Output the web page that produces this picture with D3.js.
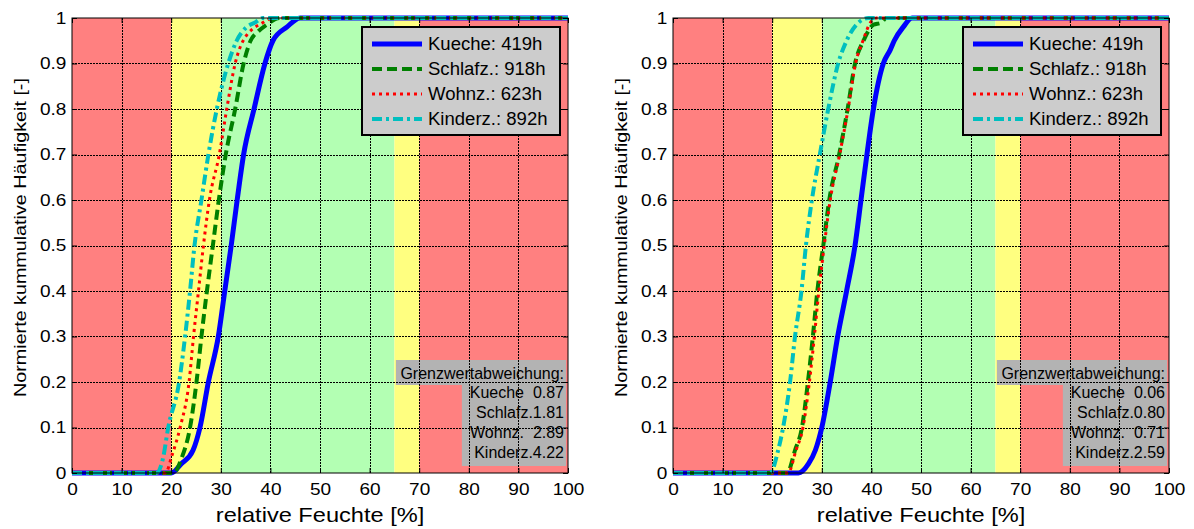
<!DOCTYPE html>
<html>
<head>
<meta charset="utf-8">
<script src="https://cdn.jsdelivr.net/npm/d3@7"></script>
<style>
  body { margin: 0; background: #fff; }
  svg { display: block; font-family: "Liberation Sans", Arial, sans-serif; }
</style>
</head>
<body>
<svg id="chart" width="1194" height="529"></svg>
<script>
// ---- data ----
const seriesNames = ['Kueche', 'Schlafz.', 'Wohnz.', 'Kinderz.'];
const hoursLeft = [419, 918, 623, 892];
const hoursRight = [419, 918, 623, 892];
const deviationLeft = ['0.87', '1.81', '2.89', '4.22'];
const deviationRight = ['0.06', '0.80', '0.71', '2.59'];
const xTicks = [0, 10, 20, 30, 40, 50, 60, 70, 80, 90, 100];
const yTicks = [0, 0.1, 0.2, 0.3, 0.4, 0.5, 0.6, 0.7, 0.8, 0.9, 1];
// comfort bands [from, to, kind]
const bandFrom = [0, 20, 30, 65, 70];
const bandTo = [20, 30, 65, 70, 100];
const bandKind = ['bad', 'warn', 'good', 'warn', 'bad'];

// left panel curves (relative humidity -> cumulative share)
const kuecheL_x = [0, 20, 22, 24.4, 25.8, 27.5, 29.5, 30.8, 32.1, 33.3, 34.6, 36.7, 38.9, 40.5, 43.3, 46, 100];
const kuecheL_y = [0, 0, 0.02, 0.05, 0.1, 0.2, 0.3, 0.4, 0.5, 0.6, 0.7, 0.8, 0.9, 0.95, 0.98, 1, 1];
const schlafL_x = [0, 20.5, 22, 23.8, 25.1, 26.1, 27.2, 28.4, 29.6, 31, 32.9, 34.6, 36, 37.5, 39.2, 42, 100];
const schlafL_y = [0, 0, 0.03, 0.1, 0.2, 0.3, 0.4, 0.5, 0.6, 0.7, 0.8, 0.9, 0.95, 0.97, 0.985, 1, 1];
const wohnL_x = [0, 18.8, 20.2, 21.8, 23.6, 24.5, 25.5, 26.5, 27.7, 29.7, 31.2, 32.9, 34.5, 38.5, 40.5, 100];
const wohnL_y = [0, 0, 0.04, 0.1, 0.2, 0.3, 0.4, 0.5, 0.6, 0.7, 0.8, 0.9, 0.95, 0.99, 1, 1];
const kindL_x = [0, 17, 18.3, 19.4, 21.6, 22.8, 23.8, 24.7, 26.1, 27.5, 29.2, 31.5, 33.2, 35.2, 36.9, 38.5, 100];
const kindL_y = [0, 0, 0.03, 0.1, 0.2, 0.3, 0.4, 0.5, 0.6, 0.7, 0.8, 0.9, 0.95, 0.98, 0.99, 1, 1];

// right panel curves
const kuecheR_x = [0, 25.3, 27.3, 28.7, 30, 31.7, 33.2, 35, 36.7, 37.9, 39.1, 40.4, 42.4, 43.8, 44.6, 46.4, 48.2, 100];
const kuecheR_y = [0, 0, 0.02, 0.05, 0.1, 0.2, 0.3, 0.4, 0.5, 0.6, 0.7, 0.8, 0.9, 0.93, 0.95, 0.98, 1, 1];
const schlafR_x = [0, 23, 24.6, 26, 27.2, 28.2, 29.1, 30.3, 31.5, 33.5, 35.2, 36.7, 38.4, 40.4, 42, 43, 100];
const schlafR_y = [0, 0, 0.05, 0.1, 0.2, 0.3, 0.4, 0.5, 0.6, 0.7, 0.8, 0.9, 0.95, 0.985, 0.99, 1, 1];
const wohnR_x = [0, 23.2, 24.8, 26.2, 27.5, 28.5, 29.4, 30.5, 31.7, 33.6, 35.3, 36.8, 38.3, 39.8, 41, 100];
const wohnR_y = [0, 0, 0.05, 0.1, 0.2, 0.3, 0.4, 0.5, 0.6, 0.7, 0.8, 0.9, 0.95, 0.99, 1, 1];
const kindR_x = [0, 19.6, 21.2, 22.2, 23.6, 24.6, 25.9, 26.8, 28, 29.6, 31.3, 33.3, 35, 37.4, 39.4, 100];
const kindR_y = [0, 0, 0.05, 0.1, 0.2, 0.3, 0.4, 0.5, 0.6, 0.7, 0.8, 0.9, 0.95, 0.99, 1, 1];

// ---- styling ----
const bandColor = { bad: '#ff8080', warn: '#ffff80', good: '#b3ffb3' };
const lineColor = ['#0000ff', '#008000', '#ff0000', '#00bfbf'];
const lineDash = [null, '10,5', '3,4', '10,4,3,4'];
const lineWidth = [5, 4, 3, 4];
// padding used so the deviation numbers line up like in the original
const devPad = { 'Kueche': '  ', 'Schlafz.': '', 'Wohnz.': '  ', 'Kinderz.': '' };

const svg = d3.select('#chart');

const zip = (xs, ys) => xs.map((x, i) => ({ x: x, y: ys[i] }));

// MATLAB export looks horizontally stretched, so text gets a sx factor
const stretchText = (sel, x, y, sx, rot) =>
  sel.attr('transform', `translate(${x},${y})${rot ? ' rotate(' + rot + ')' : ''} scale(${sx},1)`);

function drawPanel(left, curves, hours, deviation) {
  const top = 18, bottom = 473, width = 496;
  const x = d3.scaleLinear().domain([0, 100]).range([left, left + width]);
  const y = d3.scaleLinear().domain([0, 1]).range([bottom, top]);
  const g = svg.append('g');

  // background bands
  g.selectAll('rect.band')
    .data(bandFrom.map((f, i) => ({ from: f, to: bandTo[i], kind: bandKind[i] })))
    .enter().append('rect')
      .attr('class', 'band')
      .attr('x', d => x(d.from))
      .attr('width', d => x(d.to) - x(d.from))
      .attr('y', top)
      .attr('height', bottom - top)
      .style('fill', d => bandColor[d.kind]);

  // text box background (sits under the grid)
  const boxRight = x(99.6);
  g.append('rect')
    .attr('x', x(65.3)).attr('width', boxRight - x(65.3))
    .attr('y', 360).attr('height', 25)
    .style('fill', '#b3b3b3');
  g.append('rect')
    .attr('x', x(78.6)).attr('width', boxRight - x(78.6))
    .attr('y', 385).attr('height', 81)
    .style('fill', '#b3b3b3');

  // grid
  g.append('g').selectAll('line')
    .data(xTicks.slice(1, -1))
    .enter().append('line')
      .attr('x1', d => Math.round(x(d)) + 0.5).attr('x2', d => Math.round(x(d)) + 0.5)
      .attr('y1', top).attr('y2', bottom)
      .style('stroke', '#000').style('stroke-width', 1).style('stroke-dasharray', '2,1');
  g.append('g').selectAll('line')
    .data(yTicks.slice(1, -1))
    .enter().append('line')
      .attr('x1', left).attr('x2', left + width)
      .attr('y1', d => Math.round(y(d)) + 0.5).attr('y2', d => Math.round(y(d)) + 0.5)
      .style('stroke', '#000').style('stroke-width', 1).style('stroke-dasharray', '2,1');

  // text box lines
  const tb = g.append('g')
    .style('font-size', '16px')
    .attr('text-anchor', 'end');
  tb.append('text').attr('x', boxRight - 2).attr('y', 379).text('Grenzwertabweichung:');
  seriesNames.forEach((name, i) => {
    tb.append('text')
      .attr('x', boxRight - 2)
      .attr('y', 398 + i * 20)
      .attr('xml:space', 'preserve')
      .style('white-space', 'pre')
      .text(name + devPad[name] + deviation[i]);
  });

  // curves
  const line = d3.line().x(d => x(d.x)).y(d => y(d.y)).curve(d3.curveMonotoneX);
  curves.forEach((c, i) => {
    g.append('path')
      .datum(c)
      .attr('d', line)
      .style('fill', 'none')
      .style('stroke', lineColor[i])
      .style('stroke-width', lineWidth[i])
      .style('stroke-dasharray', lineDash[i]);
  });

  // axes frame and ticks (inside ticks like MATLAB)
  const xAxisB = d3.axisBottom(x).tickValues(xTicks).tickSizeInner(-5).tickSizeOuter(0).tickPadding(10).tickFormat(d3.format('d'));
  const xAxisT = d3.axisTop(x).tickValues(xTicks).tickSizeInner(-5).tickSizeOuter(0).tickFormat('');
  const yAxisL = d3.axisLeft(y).tickValues(yTicks).tickSizeInner(-5).tickSizeOuter(0).tickPadding(5).tickFormat(d => d3.format('~g')(d));
  const yAxisR = d3.axisRight(y).tickValues(yTicks).tickSizeInner(-5).tickSizeOuter(0).tickFormat('');

  [
    g.append('g').attr('transform', `translate(0,${bottom})`).call(xAxisB),
    g.append('g').attr('transform', `translate(0,${top})`).call(xAxisT),
    g.append('g').attr('transform', `translate(${left},0)`).call(yAxisL),
    g.append('g').attr('transform', `translate(${left + width},0)`).call(yAxisR)
  ].forEach(a => {
    a.select('.domain').remove();
    a.selectAll('line').style('stroke', '#000');
    a.selectAll('text')
      .style('font-size', '17px').style('fill', '#000')
      .attr('font-family', null)
      .attr('transform', 'scale(1.12,1)');
  });

  g.append('rect')
    .attr('x', left).attr('y', top)
    .attr('width', width).attr('height', bottom - top)
    .style('fill', 'none').style('stroke', '#000').style('stroke-width', 1);

  // legend
  const lg = g.append('g').attr('transform', `translate(${left + 290},27)`);
  lg.append('rect')
    .attr('width', 198).attr('height', 108)
    .style('fill', '#cccccc').style('stroke', '#000').style('stroke-width', 2);
  seriesNames.forEach((name, i) => {
    const ry = 17 + i * 25;
    lg.append('line')
      .attr('x1', 10).attr('x2', 60)
      .attr('y1', ry).attr('y2', ry)
      .style('stroke', lineColor[i])
      .style('stroke-width', lineWidth[i])
      .style('stroke-dasharray', lineDash[i]);
    stretchText(lg.append('text'), 66, ry + 6, 1.03, 0)
      .style('font-size', '18px')
      .text(name + ': ' + hours[i] + 'h');
  });

  // axis titles
  stretchText(g.append('text'), left + width / 2, 522, 1.18, 0)
    .attr('text-anchor', 'middle')
    .style('font-size', '20px')
    .text('relative Feuchte [%]');
  stretchText(g.append('text'), left - 46, (top + bottom) / 2 - 8, 1.16, -90)
    .attr('text-anchor', 'middle')
    .style('font-size', '17px')
    .text('Normierte kummulative Häufigkeit [-]');
}

drawPanel(72,
  [zip(kuecheL_x, kuecheL_y), zip(schlafL_x, schlafL_y), zip(wohnL_x, wohnL_y), zip(kindL_x, kindL_y)],
  hoursLeft, deviationLeft);
drawPanel(673,
  [zip(kuecheR_x, kuecheR_y), zip(schlafR_x, schlafR_y), zip(wohnR_x, wohnR_y), zip(kindR_x, kindR_y)],
  hoursRight, deviationRight);
</script>
</body>
</html>
